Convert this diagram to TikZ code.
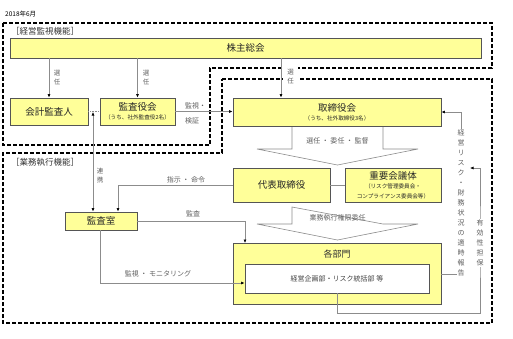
\documentclass[tikz,border=0pt]{standalone}
\usepackage{fontspec}
\setmainfont{Noto Sans CJK JP}
\usepackage{xcolor}
\usepackage{tikz}
\usetikzlibrary{arrows.meta,positioning}

\definecolor{boxyellow}{HTML}{FFFF99}
\definecolor{lineg}{HTML}{8C8C8C}
\definecolor{labelg}{HTML}{5F5F5F}
\definecolor{edgeg}{HTML}{555555}

\newcommand{\bigsz}{\fontsize{9.5}{11}\selectfont}
\newcommand{\subsz}{\fontsize{5.6}{8}\selectfont}
\newcommand{\labsz}{\fontsize{7}{8.5}\selectfont}

\tikzset{
    orgbox/.style={draw=edgeg, fill=boxyellow, line width=0.9pt, inner sep=0pt, align=center, font=\bigsz, text=black!85},
    conn/.style={draw=lineg, line width=0.6pt},
    lab/.style={text=labelg, font=\labsz, inner sep=1pt},
    vlab/.style={text=labelg, font=\fontsize{6.5}{9}\selectfont, align=center, inner sep=1pt},
    funcarea/.style={line width=1.1pt, dash pattern=on 4pt off 2pt},
    bigarrow/.style={draw=lineg, fill=white, line width=0.6pt},
}

\begin{document}
\begin{tikzpicture}[x=1pt, y=-1pt, >={Latex[length=3.5pt,width=3pt,color=black]}]
    \useasboundingbox (0,0) rectangle (513,338);
    \node[anchor=west, font=\fontsize{6.5}{8}\selectfont, inner sep=0pt] (date) at (5,14) {2018年6月};
    \draw[funcarea] (3,23) -- (492,23) -- (492,68) -- (210,68) -- (210,145) -- (3,145) -- cycle;
    \draw[funcarea] (222,79) -- (492,79) -- (492,323) -- (3,323) -- (3,153) -- (222,153) -- cycle;
    \node[anchor=west, font=\fontsize{8.5}{10}\selectfont, text=black!80, inner sep=0pt] (kanshi) at (11,31) {［経営監視機能］};
    \node[anchor=west, font=\fontsize{8.5}{10}\selectfont, text=black!80, inner sep=0pt] (shikko) at (11,162) {［業務執行機能］};

    \node[orgbox, minimum width=471pt, minimum height=20pt] (kabu) at (245.5,48) {株主総会};
    \node[orgbox, minimum width=78pt, minimum height=27pt] (kaikei) at (49,111.5) {会計監査人};
    \node[orgbox, minimum width=75pt, minimum height=27pt] (kansayaku) at (137.5,111.5) {監査役会\\[-2pt]\subsz（うち、社外監査役2名）};
    \node[orgbox, minimum width=208pt, minimum height=28pt] (torishimari) at (337,112) {取締役会\\[-2pt]\subsz（うち、社外取締役3名）};
    \node[orgbox, minimum width=97pt, minimum height=34pt] (daihyo) at (281.5,185) {代表取締役};
    \node[orgbox, minimum width=96pt, minimum height=34pt] (juyo) at (393,185) {重要会議体\\[-2pt]\subsz（リスク管理委員会・\\[-1pt]\subsz コンプライアンス委員会等）};
    \node[orgbox, minimum width=72pt, minimum height=18pt] (kansashitsu) at (101,221) {監査室};
    \node[orgbox, minimum width=208pt, minimum height=61pt, anchor=north] (kakubumon) at (337,243) {};
    \node[font=\fontsize{9}{10}\selectfont, text=black!80] (bumonname) at (337,254) {各部門};
    \node[draw=edgeg, fill=white, line width=0.9pt, minimum width=184pt, minimum height=29pt, font=\labsz, text=black!75] (keiei) at (337,278.5) {経営企画部・リスク統括部 等};

    \draw[bigarrow] (292,127) -- (292,149) -- (257,149) -- (337.5,165) -- (418,149) -- (383,149) -- (383,127);
    \node[lab] (sennin) at (337.5,141) {選任 ・ 委任 ・ 監督};
    \draw[bigarrow] (292,207) -- (292,224) -- (257,224) -- (337.5,240) -- (418,224) -- (383,224) -- cycle;
    \node[lab] (inin) at (337.5,218) {業務執行権限委任};

    \draw[conn,->] (kaikei.north |- kabu.south) -- (kaikei.north);
    \node[vlab] (sen1) at (57,78) {選\\任};
    \draw[conn,->] (kansayaku.north |- kabu.south) -- (kansayaku.north);
    \node[vlab] (sen2) at (146,78) {選\\任};
    \coordinate (torin) at ([xshift=-56pt]torishimari.north);
    \draw[conn,->] (torin |- kabu.south) -- (torin);
    \node[vlab, fill=white, minimum width=15pt, minimum height=37pt] (sen3) at (290.5,77) {選\\任};

    \draw[conn,->] (kansayaku.east) -- (torishimari.west |- kansayaku.east);
    \node[lab, anchor=west] (kanshi1) at (184,106) {監視・};
    \node[lab, anchor=west] (kensho) at (184,121) {検証};
    \draw[conn, densely dotted] (kaikei.east) -- (kansayaku.west);
    \coordinate (renkei) at (93,112);
    \draw[conn,<->] (renkei) -- (renkei |- kansashitsu.north);
    \node[vlab] (renkeilab) at (100,176) {連\\携};

    \draw[conn,->] (daihyo.west) -| ([xshift=17pt]kansashitsu.north);
    \node[lab] (shiji) at (186,180) {指示 ・ 命令};
    \draw[conn] (daihyo.east) -- (juyo.west);
    \draw[conn,->] (kansashitsu.east) -| ([xshift=-92pt]kakubumon.north);
    \node[lab] (kansa) at (193,214) {監査};
    \draw[conn,->] ([xshift=-1pt]kansashitsu.south) |- ([yshift=-4.5pt]keiei.west);
    \node[lab] (monitor) at (158,274) {監視 ・ モニタリング};

    \coordinate (hokokuline) at (461,203);
    \draw[conn,->] (kakubumon.east) -| (hokokuline) |- (torishimari.east);
    \node[vlab, fill=white, font=\fontsize{7}{10}\selectfont] (hokoku) at (hokokuline) {経\\営\\リ\\ス\\ク\\・\\財\\務\\状\\況\\の\\適\\時\\報\\告};
    \coordinate (yukoline) at (480,243);
    \coordinate (yukotip) at (470,168);
    \draw[conn,->] (keiei.south) -- ++(0,20) -| (yukoline) |- (yukotip);
    \node[vlab, fill=white, font=\fontsize{7}{10}\selectfont] (yuko) at (yukoline) {有\\効\\性\\担\\保};
\end{tikzpicture}
\end{document}
